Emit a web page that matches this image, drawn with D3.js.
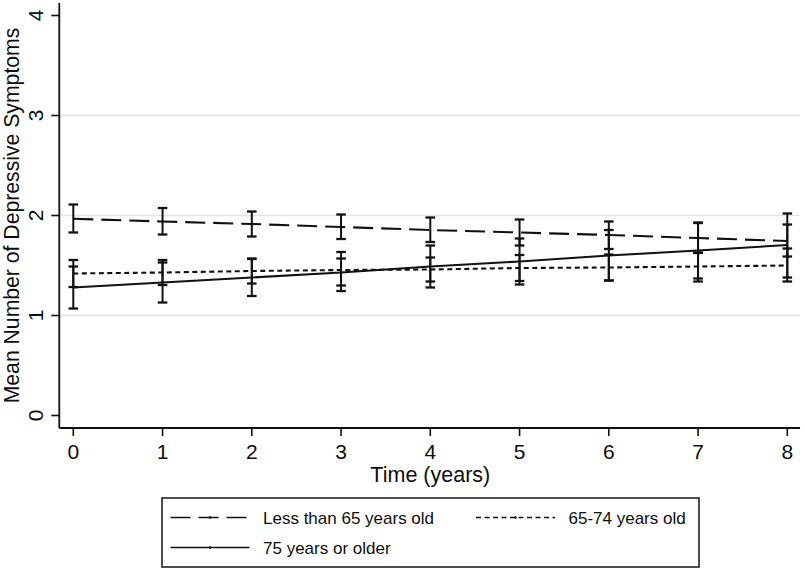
<!DOCTYPE html>
<html>
<head>
<meta charset="utf-8">
<script src="https://cdn.jsdelivr.net/npm/d3@7"></script>
<style>
  html, body { margin: 0; padding: 0; background: #fff; }
  svg { display: block; }
  text { font-family: "Liberation Sans", Arial, Helvetica, sans-serif; fill: #0d0d0d; }
</style>
</head>
<body>
<svg id="chart" width="804" height="570"></svg>
<script>
// ---- data ----
const years = [0, 1, 2, 3, 4, 5, 6, 7, 8];
const yTicks = [0, 1, 2, 3, 4];
const gridTicks = [1, 2, 3];
const seriesNames = ["Less than 65 years old", "65-74 years old", "75 years or older"];

const meanUnder65 = [1.968, 1.94, 1.915, 1.885, 1.855, 1.83, 1.805, 1.775, 1.745];
const lowUnder65  = [1.83, 1.81, 1.79, 1.765, 1.735, 1.70, 1.665, 1.625, 1.59];
const highUnder65 = [2.11, 2.075, 2.04, 2.01, 1.98, 1.96, 1.94, 1.925, 1.91];

const mean65to74 = [1.42, 1.43, 1.445, 1.455, 1.46, 1.475, 1.48, 1.49, 1.50];
const low65to74  = [1.285, 1.305, 1.32, 1.30, 1.34, 1.345, 1.35, 1.34, 1.34];
const high65to74 = [1.555, 1.555, 1.57, 1.57, 1.58, 1.605, 1.61, 1.63, 1.67];

const mean75plus = [1.28, 1.33, 1.38, 1.43, 1.49, 1.54, 1.60, 1.65, 1.705];
const low75plus  = [1.07, 1.13, 1.195, 1.245, 1.28, 1.31, 1.35, 1.37, 1.38];
const high75plus = [1.49, 1.53, 1.565, 1.635, 1.70, 1.77, 1.855, 1.93, 2.02];

const xTitle = "Time (years)";
const yTitle = "Mean Number of Depressive Symptoms";

// ---- build series table ----
const dashes = ["20,8", "5,3.5", null];
const series = [
  { name: seriesNames[0], mean: meanUnder65, low: lowUnder65, high: highUnder65, dash: dashes[0] },
  { name: seriesNames[1], mean: mean65to74, low: low65to74, high: high65to74, dash: dashes[1] },
  { name: seriesNames[2], mean: mean75plus, low: low75plus, high: high75plus, dash: dashes[2] }
];

const svg = d3.select("#chart");
const ink = "#111";

const x = d3.scaleLinear().domain([0, 8]).range([73.3, 787.3]);
const y = d3.scaleLinear().domain([0, 4]).range([415.5, 15.5]);

// plot region (slightly padded beyond data domain, Stata-style)
const pLeft = x(-0.157), pRight = x(8.143);
const pTop = y(4.125), pBottom = y(-0.125);

// gridlines
svg.append("g").selectAll("line").data(gridTicks).join("line")
  .attr("x1", pLeft).attr("x2", pRight)
  .attr("y1", d => y(d)).attr("y2", d => y(d))
  .attr("stroke", "#e4e4e4").attr("stroke-width", 1.6);

// axis lines
svg.append("line").attr("x1", pLeft).attr("x2", pLeft).attr("y1", pTop).attr("y2", pBottom)
  .attr("stroke", ink).attr("stroke-width", 1.8);
svg.append("line").attr("x1", pLeft).attr("x2", pRight).attr("y1", pBottom).attr("y2", pBottom)
  .attr("stroke", ink).attr("stroke-width", 1.8);

// y ticks + rotated labels
const yg = svg.append("g");
yg.selectAll("line").data(yTicks).join("line")
  .attr("x1", pLeft - 8).attr("x2", pLeft)
  .attr("y1", d => y(d)).attr("y2", d => y(d))
  .attr("stroke", ink).attr("stroke-width", 1.6);
yg.selectAll("text").data(yTicks).join("text")
  .attr("transform", d => `translate(42.5,${y(d)}) rotate(-90)`)
  .attr("text-anchor", "middle")
  .attr("font-size", 21)
  .text(d => d);

// x ticks + labels
const xg = svg.append("g");
xg.selectAll("line").data(years).join("line")
  .attr("x1", d => x(d)).attr("x2", d => x(d))
  .attr("y1", pBottom).attr("y2", pBottom + 8)
  .attr("stroke", ink).attr("stroke-width", 1.6);
xg.selectAll("text").data(years).join("text")
  .attr("x", d => x(d)).attr("y", 458.5)
  .attr("text-anchor", "middle")
  .attr("font-size", 21)
  .text(d => d);

// axis titles
svg.append("text")
  .attr("x", (x(0) + x(8)) / 2).attr("y", 482)
  .attr("text-anchor", "middle").attr("font-size", 21.5)
  .text(xTitle);
svg.append("text")
  .attr("transform", `translate(18.5,${(pTop + pBottom) / 2}) rotate(-90)`)
  .attr("text-anchor", "middle").attr("font-size", 21.2)
  .text(yTitle);

// error bars
const capW = 4.8;
series.forEach(s => {
  const g = svg.append("g");
  const pts = years.map((t, i) => ({ t, lo: s.low[i], hi: s.high[i] }));
  g.selectAll("line.v").data(pts).join("line").attr("class", "v")
    .attr("x1", d => x(d.t)).attr("x2", d => x(d.t))
    .attr("y1", d => y(d.lo)).attr("y2", d => y(d.hi))
    .attr("stroke", ink).attr("stroke-width", 2);
  g.selectAll("line.lo").data(pts).join("line").attr("class", "lo")
    .attr("x1", d => x(d.t) - capW).attr("x2", d => x(d.t) + capW)
    .attr("y1", d => y(d.lo)).attr("y2", d => y(d.lo))
    .attr("stroke", ink).attr("stroke-width", 2.3);
  g.selectAll("line.hi").data(pts).join("line").attr("class", "hi")
    .attr("x1", d => x(d.t) - capW).attr("x2", d => x(d.t) + capW)
    .attr("y1", d => y(d.hi)).attr("y2", d => y(d.hi))
    .attr("stroke", ink).attr("stroke-width", 2.3);
});

// mean lines
const lineGen = d3.line().x(d => x(d.t)).y(d => y(d.v));
series.forEach(s => {
  svg.append("path")
    .datum(years.map((t, i) => ({ t, v: s.mean[i] })))
    .attr("d", lineGen)
    .attr("fill", "none")
    .attr("stroke", ink)
    .attr("stroke-width", 2.1)
    .attr("stroke-dasharray", s.dash);
});

// legend
const lg = svg.append("g");
lg.append("rect")
  .attr("x", 162).attr("y", 498).attr("width", 537).attr("height", 69)
  .attr("fill", "#fff").attr("stroke", "#222").attr("stroke-width", 1.6);
const legendPos = [
  { sx: 170.5, row: 0 },
  { sx: 476, row: 0 },
  { sx: 170.5, row: 1 }
];
series.forEach((s, i) => {
  const p = legendPos[i];
  const ly = 517.5 + p.row * 30;
  lg.append("line")
    .attr("x1", p.sx).attr("x2", p.sx + 79)
    .attr("y1", ly).attr("y2", ly)
    .attr("stroke", ink).attr("stroke-width", 1.7)
    .attr("stroke-dasharray", s.dash);
  lg.append("circle").attr("cx", p.sx + 39.5).attr("cy", ly).attr("r", 1.3).attr("fill", ink);
  lg.append("text")
    .attr("x", p.sx + 92.5).attr("y", ly + 6.5)
    .attr("font-size", 17)
    .text(s.name);
});
</script>
</body>
</html>
